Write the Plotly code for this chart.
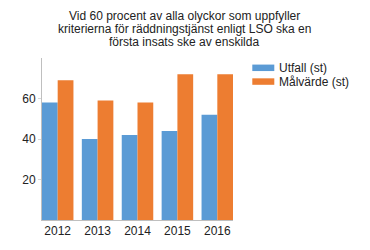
import plotly.graph_objects as go

years = ["2012", "2013", "2014", "2015", "2016"]
utfall = [58, 40, 42, 44, 52]
malvarde = [69, 59, 58, 72, 72]
series_names = ["Utfall (st)", "Målvärde (st)"]
colors = ["#5b9bd5", "#ed7d31"]
title_lines = [
    "Vid 60 procent av alla olyckor som uppfyller",
    "kriterierna för räddningstjänst enligt LSO ska en",
    "första insats ske av enskilda",
]

W, H = 370, 250
L, R, T, B = 42, 137, 58, 27
plot_w = W - L - R
plot_h = H - T - B


def px_x(p):
    return (p - L) / plot_w


def px_y(p):
    return (H - B - p) / plot_h


fig = go.Figure()
for name, vals, c in zip(series_names, [utfall, malvarde], colors):
    fig.add_trace(go.Bar(x=years, y=vals, name=name, marker=dict(color=c, line=dict(width=0))))

for i, line in enumerate(title_lines):
    py = 15 + i * 13.4
    fig.add_annotation(
        text=line, xref="paper", yref="paper", x=px_x(184),
        y=px_y(py), xanchor="center", yanchor="middle",
        showarrow=False, font=dict(size=12, color="#222222"),
    )

# legend drawn as swatches + labels
for i, (name, c) in enumerate(zip(series_names, colors)):
    cy = 68 + i * 14
    fig.add_shape(type="rect", xref="paper", yref="paper",
                  x0=px_x(252.3), x1=px_x(274.3), y0=px_y(cy - 3.3), y1=px_y(cy + 3.3),
                  fillcolor=c, line=dict(width=0))
    fig.add_annotation(text=name, xref="paper", yref="paper", x=px_x(278),
                       y=px_y(cy), xanchor="left", yanchor="middle", showarrow=False,
                       font=dict(size=12, color="#222222"), borderpad=0)

fig.update_layout(
    width=W, height=H, margin=dict(l=L, r=R, t=T, b=B),
    paper_bgcolor="white", plot_bgcolor="white",
    font=dict(family="Liberation Sans, Arial, sans-serif", size=12, color="#222222"),
    barmode="group", bargap=0.21, bargroupgap=0,
    showlegend=False,
    xaxis=dict(range=[-0.393, 4.393], showgrid=False, showline=True,
               linecolor="#bfbfbf", linewidth=1, ticks="", tickfont=dict(size=12)),
    yaxis=dict(range=[0, 80], tickvals=[20, 40, 60], showgrid=False, showline=True,
               linecolor="#bfbfbf", linewidth=1, ticks="outside", ticklen=3,
               tickcolor="#d9d9d9", zeroline=False, tickfont=dict(size=12)),
)

fig.write_html("out.html")
